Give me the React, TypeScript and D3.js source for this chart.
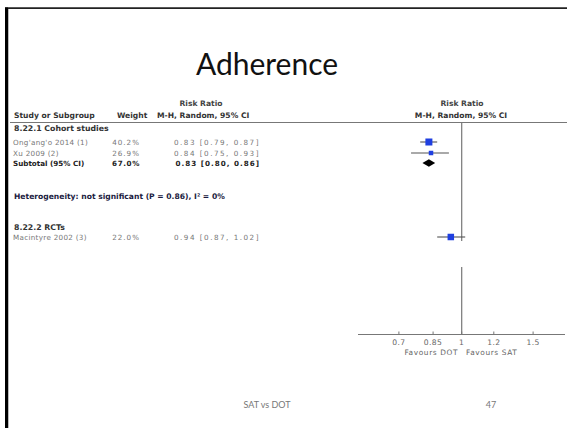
import React from "react";
import * as d3 from "d3";

const studies = ["Ong'ang'o 2014 (1)", "Xu 2009 (2)", "Macintyre 2002 (3)"];
const weights = ["40.2%", "26.9%", "22.0%"];
const rr = [0.83, 0.84, 0.94];
const lo = [0.79, 0.75, 0.87];
const hi = [0.87, 0.93, 1.02];
const rowY = [142, 153, 237];
const markSize = [7, 4.5, 6.5];

const subtotalRR = 0.83;
const subtotalLo = 0.8;
const subtotalHi = 0.86;
const subtotalWeight = "67.0%";

const tickValues = [0.7, 0.85, 1, 1.2, 1.5];
const tickLabels = ["0.7", "0.85", "1", "1.2", "1.5"];

const fmt = (v: number) => v.toFixed(2);

export default function App() {
  const W = 567;
  const H = 428;
  const x = d3.scaleLog().domain([0.7, 1.5]).range([398.9, 533.1]);
  const axisY = 334.5;
  const axisX0 = 358;
  const axisX1 = 565;
  const x1 = x(1);
  const gray = "#555";
  const lite = "#777";
  const tableFont = "DejaVu Sans, Verdana, sans-serif";
  const blue = "#1f3fe0";

  const subY = 163;
  const dmH = 3.8;
  const diamond = `M${x(subtotalLo)},${subY} L${x(subtotalRR)},${subY - dmH} L${x(subtotalHi)},${subY} L${x(subtotalRR)},${subY + dmH} Z`;

  return (
    <svg
      width={W}
      height={H}
      style={{ position: "absolute", left: 0, top: 0, background: "#fff" }}
      xmlns="http://www.w3.org/2000/svg"
    >
      <rect x={0} y={0} width={W} height={H} fill="#fff" />
      {/* slide frame */}
      <line x1={5} y1={8.2} x2={W} y2={8.2} stroke="#222" strokeWidth={1.8} />
      <line x1={6.5} y1={7.5} x2={6.5} y2={H} stroke="#000" strokeWidth={3} />
      <line x1={8.5} y1={9} x2={8.5} y2={H} stroke="#aaa" strokeWidth={0.8} />

      <text x={267} y={75} textAnchor="middle" fontFamily="Lato, 'Open Sans', sans-serif" fontSize={30} fill="#111">
        Adherence
      </text>

      <g fontFamily={tableFont} fontSize={7.6}>
        {/* headers */}
        <text x={201} y={106} textAnchor="middle" fontWeight="bold" fill="#444">Risk Ratio</text>
        <text x={14} y={118} fontWeight="bold" fill="#333">Study or Subgroup</text>
        <text x={117} y={118} fontWeight="bold" fill="#333">Weight</text>
        <text x={157} y={118} fontWeight="bold" fill="#333">M-H, Random, 95% CI</text>
        <text x={462} y={106} textAnchor="middle" fontWeight="bold" fill="#444">Risk Ratio</text>
        <text x={461} y={118} textAnchor="middle" fontWeight="bold" fill="#333">M-H, Random, 95% CI</text>
        <line x1={10} y1={122.5} x2={W} y2={122.5} stroke="#777" strokeWidth={1} />

        <text x={14} y={131} fontWeight="bold" fill="#333" fontSize={7.8}>8.22.1 Cohort studies</text>

        {studies.map((s, i) => (
          <g key={s} fontSize={7.2}>
            <text x={13} y={rowY[i] + 2.6} fill={lite} letterSpacing={0.3}>{s}</text>
            <text x={140} y={rowY[i] + 2.6} textAnchor="end" fill={lite} letterSpacing={1}>{weights[i]}</text>
            <text x={260} y={rowY[i] + 2.6} textAnchor="end" fill={lite} letterSpacing={1.5}>
              {`${fmt(rr[i])} [${fmt(lo[i])}, ${fmt(hi[i])}]`}
            </text>
          </g>
        ))}

        <g fontWeight="bold" fill="#222" fontSize={7.2}>
          <text x={13} y={subY + 2.6}>Subtotal (95% CI)</text>
          <text x={140} y={subY + 2.6} textAnchor="end" letterSpacing={0.6}>{subtotalWeight}</text>
          <text x={260} y={subY + 2.6} textAnchor="end" letterSpacing={1}>
            {`${fmt(subtotalRR)} [${fmt(subtotalLo)}, ${fmt(subtotalHi)}]`}
          </text>
        </g>

        <text x={14} y={198.5} fontWeight="bold" fill="#1a1a40" fontSize={7.6}>
          Heterogeneity: not significant (P = 0.86), I² = 0%
        </text>

        <text x={14} y={229.5} fontWeight="bold" fill="#333" fontSize={7.8}>8.22.2 RCTs</text>
      </g>

      {/* null line */}
      <line x1={x1} y1={122.5} x2={x1} y2={241} stroke="#777" strokeWidth={1.2} />
      <line x1={x1} y1={267} x2={x1} y2={axisY} stroke="#777" strokeWidth={1.2} />

      {/* CIs and squares */}
      {studies.map((s, i) => (
        <g key={`m${s}`}>
          <line x1={x(lo[i])} y1={rowY[i]} x2={x(hi[i])} y2={rowY[i]} stroke={gray} strokeWidth={1.1} />
          <rect
            x={x(rr[i]) - markSize[i] / 2}
            y={rowY[i] - markSize[i] / 2}
            width={markSize[i]}
            height={markSize[i]}
            fill={blue}
          />
        </g>
      ))}
      <path d={diamond} fill="#000" />

      {/* axis */}
      <line x1={axisX0} y1={axisY} x2={axisX1} y2={axisY} stroke="#777" strokeWidth={1.2} />
      <g fontFamily={tableFont} fontSize={7.6} fill="#666">
        {tickValues.map((t, i) => (
          <g key={t}>
            <line x1={x(t)} y1={axisY - 3} x2={x(t)} y2={axisY} stroke="#777" strokeWidth={1} />
            <text x={x(t)} y={345} textAnchor="middle" letterSpacing={0.4}>{tickLabels[i]}</text>
          </g>
        ))}
        <text x={458} y={355} textAnchor="end" fontSize={7.4} letterSpacing={0.6}>Favours DOT</text>
        <text x={466} y={355} fontSize={7.4} letterSpacing={0.6}>Favours SAT</text>
      </g>

      {/* footer */}
      <text x={267} y={408} textAnchor="middle" fontFamily="Lato, 'Open Sans', sans-serif" fontSize={9} fill="#777">
        SAT vs DOT
      </text>
      <text x={491} y={408} textAnchor="middle" fontFamily="Lato, 'Open Sans', sans-serif" fontSize={9} fill="#777">
        47
      </text>
    </svg>
  );
}
